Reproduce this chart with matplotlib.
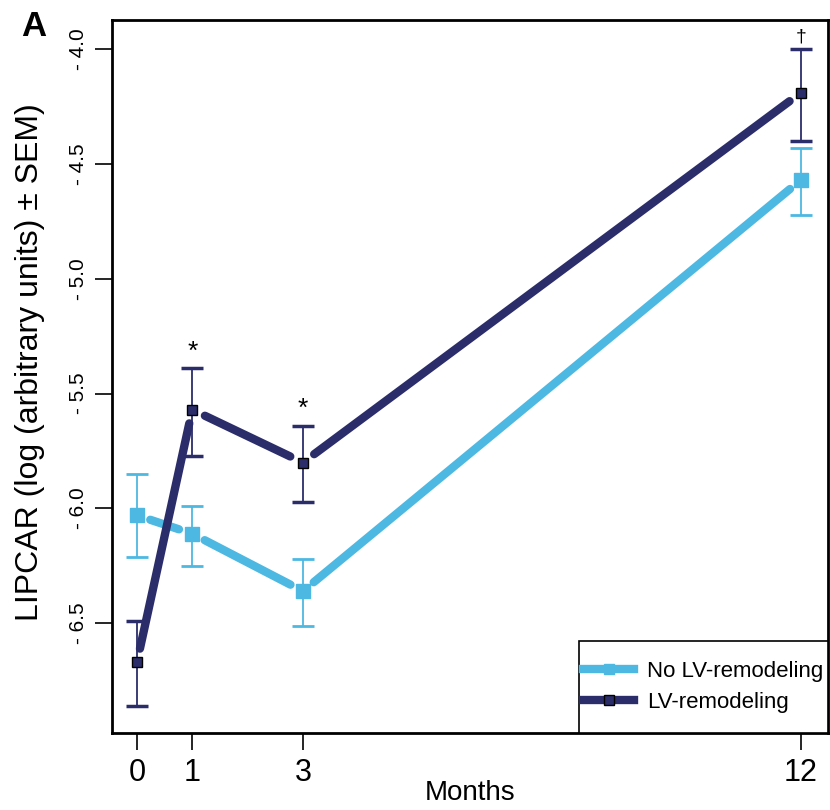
import numpy as np
import matplotlib.pyplot as plt
from matplotlib.lines import Line2D
from matplotlib.patches import Rectangle

plt.rcParams['font.family'] = ['Liberation Sans', 'DejaVu Sans']

# Data
months = [0, 1, 3, 12]
no_remod = [-6.03, -6.11, -6.36, -4.57]
no_remod_lo = [-6.21, -6.25, -6.51, -4.72]
no_remod_hi = [-5.85, -5.99, -6.22, -4.43]
remod = [-6.67, -5.57, -5.80, -4.19]
remod_lo = [-6.86, -5.77, -5.97, -4.40]
remod_hi = [-6.49, -5.39, -5.64, -4.00]
marks = ['', '*', '*', '\u2020']

light = '#4db8e2'
dark = '#2b2d6b'

fig = plt.figure(figsize=(8.3, 8.1), dpi=100)
ax = fig.add_axes([0.135, 0.095, 0.8625, 0.88])
ax.set_xlim(-0.45, 12.49)
ax.set_ylim(-6.978, -3.874)


def gapped_line(x, y, color, gap=14):
    # R type="b": segments stop short of the points
    pts = ax.transData.transform(np.column_stack([x, y]))
    inv = ax.transData.inverted()
    for i in range(len(pts) - 1):
        p0, p1 = pts[i], pts[i + 1]
        d = (p1 - p0) / np.hypot(*(p1 - p0))
        a, b = inv.transform([p0 + d * gap, p1 - d * gap])
        ax.plot([a[0], b[0]], [a[1], b[1]], color=color, lw=6,
                solid_capstyle='round', zorder=2)


gapped_line(months, no_remod, light)
gapped_line(months, remod, dark)

ax.errorbar(months, no_remod,
            yerr=[np.subtract(no_remod, no_remod_lo), np.subtract(no_remod_hi, no_remod)],
            fmt='none', ecolor=light, elinewidth=1.3, capsize=8, capthick=2, zorder=3)
ax.errorbar(months, remod,
            yerr=[np.subtract(remod, remod_lo), np.subtract(remod_hi, remod)],
            fmt='none', ecolor=dark, elinewidth=1.3, capsize=8, capthick=2.5, zorder=3)
ax.plot(months, no_remod, 's', color=light, ms=9.5, mec=light, zorder=4)
ax.plot(months, remod, 's', color=dark, ms=7.5, mec='black', mew=1, zorder=5)

for m, hi, s in zip(months, remod_hi, marks):
    if s == '*':
        ax.text(m, hi + 0.02, s, ha='center', va='bottom', fontsize=19)
    elif s:
        ax.text(m, hi + 0.015, s, ha='center', va='bottom', fontsize=14)

yt = [-4.0, -4.5, -5.0, -5.5, -6.0, -6.5]
ax.set_yticks(yt)
ax.set_yticklabels(['- %.1f' % abs(v) for v in yt], rotation=90, va='center', fontsize=15)
ax.set_xticks(months)
ax.set_xticklabels([str(m) for m in months], fontsize=22)
ax.tick_params(axis='both', direction='out', length=12, width=1.2, pad=6)
ax.tick_params(axis='y', pad=5)
for sp in ax.spines.values():
    sp.set_linewidth(2)

ax.set_xlabel('Months', fontsize=20, labelpad=-6)
ax.set_ylabel('LIPCAR (log (arbitrary units) \u00b1 SEM)', fontsize=23)
ax.yaxis.set_label_coords(-0.094, 0.521)
fig.text(0.025, 0.955, 'A', fontsize=25, fontweight='bold')

# legend box drawn by hand so the padding can differ per side
ax.add_patch(Rectangle((0.652, 0.0), 0.348, 0.129, transform=ax.transAxes,
                       facecolor='white', edgecolor='black', lw=1.2, zorder=6))
handles = [
    Line2D([], [], color=light, lw=6, marker='s', ms=7, mec=light),
    Line2D([], [], color=dark, lw=6, marker='s', ms=7, mfc=dark, mec='black'),
]
leg = ax.legend(handles, ['No LV-remodeling', 'LV-remodeling'], loc='center',
                bbox_to_anchor=(0.826, 0.0645), fontsize=16, frameon=False,
                handlelength=2.3, labelspacing=0.45, borderpad=0, handletextpad=0.6)
leg.set_zorder(7)

fig.savefig('out.png', dpi=100)
